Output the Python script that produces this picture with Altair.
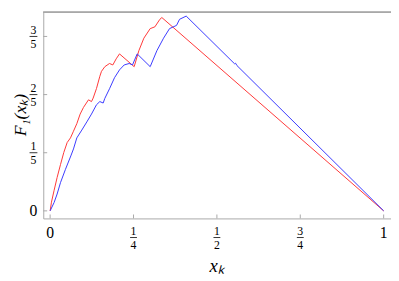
import altair as alt
import pandas as pd

# Red curve
red_x = [0, 0.004, 0.012, 0.021, 0.031, 0.041, 0.051, 0.061, 0.070, 0.080, 0.090, 0.100,
         0.115, 0.124, 0.129, 0.139, 0.149, 0.154, 0.164, 0.178, 0.188, 0.198, 0.208,
         0.252, 0.266, 0.281, 0.300, 0.314, 0.329, 0.335, 1.0]
red_y = [0, 0.030, 0.071, 0.115, 0.159, 0.201, 0.235, 0.251, 0.274, 0.300, 0.333, 0.356,
         0.382, 0.376, 0.388, 0.421, 0.463, 0.480, 0.496, 0.507, 0.502, 0.523, 0.540,
         0.496, 0.551, 0.594, 0.627, 0.633, 0.659, 0.665, 0.0]

# Blue curve
blue_x = [0, 0.012, 0.021, 0.031, 0.046, 0.062, 0.070, 0.080, 0.095, 0.110, 0.124, 0.139,
          0.149, 0.159, 0.164, 0.178, 0.193, 0.208, 0.222, 0.237, 0.247, 0.261, 0.300,
          0.320, 0.340, 0.358, 0.379, 0.388, 0.408, 0.553, 0.556, 0.560, 1.0]
blue_y = [0, 0.029, 0.058, 0.097, 0.143, 0.189, 0.213, 0.251, 0.278, 0.306, 0.333, 0.365,
          0.376, 0.371, 0.387, 0.420, 0.458, 0.485, 0.502, 0.507, 0.502, 0.540, 0.496,
          0.551, 0.594, 0.627, 0.638, 0.659, 0.670, 0.506, 0.508, 0.500, 0.0]

# Tick labels
x_ticks = [0, 0.25, 0.5, 0.75, 1]
x_int = ["0", "", "", "", "1"]
x_num = ["", "1", "1", "3", ""]
x_den = ["", "4", "2", "4", ""]
y_ticks = [0, 0.2, 0.4, 0.6]
y_int = ["0", "", "", ""]
y_num = ["", "1", "2", "3"]
y_den = ["", "5", "5", "5"]

x_title = "xₖ"
y_title = "F₁(xₖ)"

W, H = 355, 211
XDOM = [-0.0206, 1.022]
YDOM = [-0.026, 0.685]
FONT = "Liberation Serif"
AX = "#a8a8a8"

xs = alt.Scale(domain=XDOM, nice=False, zero=False)
ys = alt.Scale(domain=YDOM, nice=False, zero=False)

rows = []
for i, (a, b) in enumerate(zip(red_x, red_y)):
    rows.append({"x": a, "y": b, "s": "red", "o": i})
for i, (a, b) in enumerate(zip(blue_x, blue_y)):
    rows.append({"x": a, "y": b, "s": "blue", "o": i})
curves = pd.DataFrame(rows)

xt = pd.DataFrame({"v": x_ticks, "i": x_int, "n": x_num, "d": x_den})
yt = pd.DataFrame({"v": y_ticks, "i": y_int, "n": y_num, "d": y_den})
xf = xt[xt["n"] != ""]
yf = yt[yt["n"] != ""]

base_x = alt.X("x:Q", scale=xs,
               axis=alt.Axis(labels=False, ticks=False, grid=False, title=None,
                             domainColor=AX, domainWidth=1))
base_y = alt.Y("y:Q", scale=ys,
               axis=alt.Axis(labels=False, ticks=False, grid=False, title=None,
                             domainColor=AX, domainWidth=1))

lines = alt.Chart(curves).mark_line(strokeWidth=1.0).encode(
    x=base_x, y=base_y, order="o:Q",
    color=alt.Color("s:N", scale=alt.Scale(domain=["red", "blue"],
                                           range=["#ff3535", "#3838ff"]), legend=None),
)

top = alt.Chart(xt).mark_rule(color=AX, strokeWidth=1).encode(
    x=alt.value(0), x2=alt.value(W), y=alt.value(0.5))

xticks = alt.Chart(xt).mark_rule(color=AX, strokeWidth=1).encode(
    x=alt.X("v:Q", scale=xs), y=alt.value(H), y2=alt.value(H - 4))
yticks = alt.Chart(yt).mark_rule(color=AX, strokeWidth=1).encode(
    y=alt.Y("v:Q", scale=ys), x=alt.value(0), x2=alt.value(4))

xint = alt.Chart(xt).mark_text(font=FONT, fontSize=16, baseline="middle").encode(
    x=alt.X("v:Q", scale=xs), y=alt.value(H + 15), text="i:N")
xnum = alt.Chart(xf).mark_text(font=FONT, fontSize=12, baseline="middle").encode(
    x=alt.X("v:Q", scale=xs), y=alt.value(H + 13), text="n:N")
xbar = alt.Chart(xf).mark_rule(color="black", strokeWidth=0.8, xOffset=-3.5, x2Offset=3.5).encode(
    x=alt.X("v:Q", scale=xs), x2="v:Q", y=alt.value(H + 19.5))
xden = alt.Chart(xf).mark_text(font=FONT, fontSize=12, baseline="middle").encode(
    x=alt.X("v:Q", scale=xs), y=alt.value(H + 27), text="d:N")

yint = alt.Chart(yt).mark_text(font=FONT, fontSize=16, baseline="middle").encode(
    y=alt.Y("v:Q", scale=ys), x=alt.value(-10), text="i:N")
ynum = alt.Chart(yf).mark_text(font=FONT, fontSize=12, baseline="middle", dy=-7).encode(
    y=alt.Y("v:Q", scale=ys), x=alt.value(-10), text="n:N")
ybar = alt.Chart(yf).mark_rule(color="black", strokeWidth=0.8).encode(
    y=alt.Y("v:Q", scale=ys), x=alt.value(-14), x2=alt.value(-6))
yden = alt.Chart(yf).mark_text(font=FONT, fontSize=12, baseline="middle", dy=8).encode(
    y=alt.Y("v:Q", scale=ys), x=alt.value(-10), text="d:N")

xtitle = alt.Chart(xt.head(1)).mark_text(font=FONT, fontSize=19, fontStyle="italic",
                                         baseline="middle").encode(
    x=alt.value(177), y=alt.value(H + 49), text=alt.value(x_title))
ytitle = alt.Chart(xt.head(1)).mark_text(font=FONT, fontSize=18, fontStyle="italic",
                                         baseline="middle", angle=270).encode(
    x=alt.value(-23), y=alt.value(H / 2), text=alt.value(y_title))

chart = alt.layer(lines, top, xticks, yticks, xint, xnum, xbar, xden,
                  yint, ynum, ybar, yden, xtitle, ytitle).properties(
    width=W, height=H,
    autosize=alt.AutoSizeParams(type="none"),
    padding={"left": 36, "top": 1, "right": 0, "bottom": 58},
).configure_view(stroke=None)

chart.save("out.html", embed_options={"renderer": "svg", "actions": False})
